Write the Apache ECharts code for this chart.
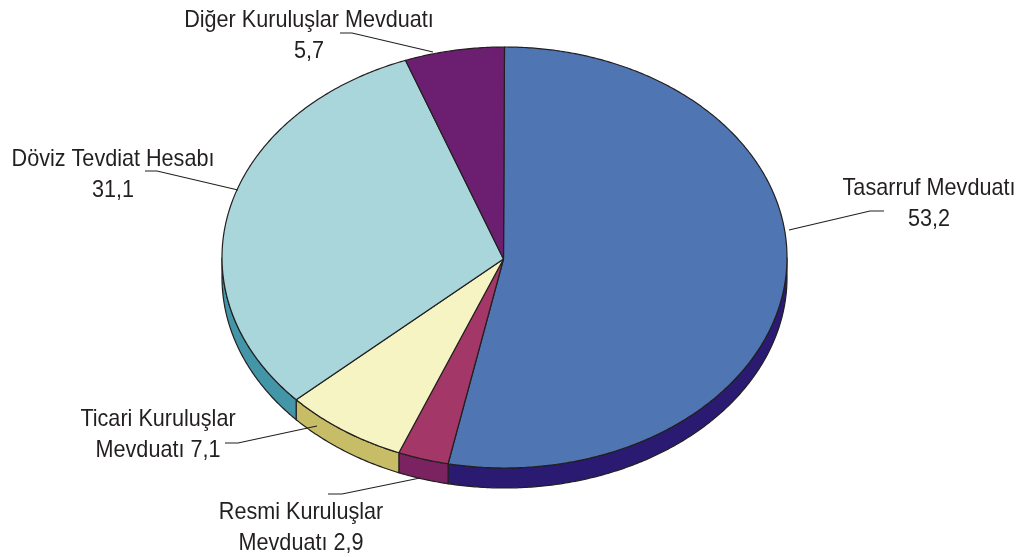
<!DOCTYPE html>
<html><head><meta charset="utf-8">
<style>html,body{margin:0;padding:0;background:#fff}#c{width:1018px;height:557px}</style>
<script src="https://cdn.jsdelivr.net/npm/echarts@6/dist/echarts.min.js"></script>
</head><body><div id="c"></div>
<script>
const categories = ['Tasarruf Mevduatı','Resmi Kuruluşlar Mevduatı','Ticari Kuruluşlar Mevduatı','Döviz Tevdiat Hesabı','Diğer Kuruluşlar Mevduatı'];
const values = [53.2, 2.9, 7.1, 31.1, 5.7];
const valueText = ['53,2','2,9','7,1','31,1','5,7'];
const topColors = ['#4F75B3','#A33768','#F6F4C2','#A9D6DA','#6C1F71'];
const sideColors = ['#2A1A72','#7A2360','#C6BD66','#4395A8','#4A1560'];

const labelLines = [
  [categories[0], valueText[0]],
  ['Resmi Kuruluşlar', 'Mevduatı ' + valueText[1]],
  ['Ticari Kuruluşlar', 'Mevduatı ' + valueText[2]],
  [categories[3], valueText[3]],
  [categories[4], valueText[4]]
];
const labelPos = [[929,204],[301,528],[158,435],[113,175],[309,35.5]];
const leaders = [
  [[789,230],[870,211],[884,211]],
  [[420,478],[342,494],[328,494]],
  [[317,426],[238,443],[225,443]],
  [[238,190],[157,171],[145,171]],
  [[433,52],[352,33],[340,33]]
];

const G = {cx:504.5, cy:257.5, rx:282.5, ry:210.5, depth:20, ax:503.5, ay:259, start:0};
const ink = '#231F20';
const total = values.reduce((a,b)=>a+b,0);
function pt(deg, dy){
  const t = deg*Math.PI/180;
  return [G.cx + G.rx*Math.sin(t), G.cy - G.ry*Math.cos(t) + (dy||0)];
}
function renderItem(params, api){
  const i = params.dataIndex;
  let before = 0;
  for(let k=0;k<i;k++) before += values[k];
  const a0 = G.start + before/total*360;
  const a1 = a0 + api.value(1)/total*360;
  const top = [[G.ax,G.ay]];
  for(let a=a0;a<a1;a+=0.5) top.push(pt(a));
  top.push(pt(a1));
  const children = [];
  const s0 = Math.max(a0,90), s1 = Math.min(a1,270);
  if(s1>s0){
    const wall=[];
    for(let a=s0;a<s1;a+=0.5) wall.push(pt(a));
    wall.push(pt(s1));
    const back=[];
    for(let a=s1;a>s0;a-=0.5) back.push(pt(a,G.depth));
    back.push(pt(s0,G.depth));
    children.push({type:'polygon',shape:{points:wall.concat(back)},
      style:{fill:sideColors[i],stroke:ink,lineWidth:1.2}});
  }
  children.push({type:'polygon',shape:{points:top},
    style:{fill:topColors[i],stroke:ink,lineWidth:1.2,lineJoin:'round'}});
  return {type:'group',children};
}
const graphicEls = [];
labelLines.forEach((l,i)=>{
  graphicEls.push({type:'polyline',silent:true,z:10,shape:{points:leaders[i]},
    style:{fill:null,stroke:ink,lineWidth:1.2}});
  l.forEach((txt,j)=>{
    graphicEls.push({type:'text',silent:true,z:11,
      x:labelPos[i][0], y:labelPos[i][1]+(j===0?-15.5:15.5), scaleX:0.9,
      style:{text:txt,fill:ink,align:'center',verticalAlign:'middle',
        font:'24px "Liberation Sans",sans-serif'}});
  });
});
const chart = echarts.init(document.getElementById('c'),null,{renderer:'canvas'});
chart.setOption({
  animation:false,
  backgroundColor:'#fff',
  graphic:{elements:graphicEls},
  series:[{type:'custom',coordinateSystem:'none',renderItem,silent:true,
    encode:{value:1},
    data:categories.map((c,i)=>[i,values[i]])}]
});
</script></body></html>
